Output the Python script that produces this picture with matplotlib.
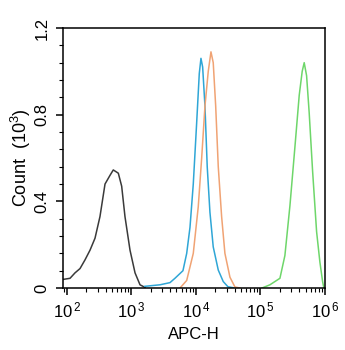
import numpy as np
import matplotlib.pyplot as plt
from matplotlib.ticker import FixedLocator, LogLocator, FuncFormatter, NullFormatter

plt.rcParams['font.family'] = 'Liberation Sans'
plt.rcParams['mathtext.fontset'] = 'custom'
plt.rcParams['mathtext.rm'] = 'Liberation Sans'
plt.rcParams['mathtext.it'] = 'Liberation Sans'

# APC-H positions given as log10 exponents, counts in thousands
black_log = [1.947, 2.051, 2.128, 2.206, 2.283, 2.361, 2.438, 2.515, 2.593, 2.670,
             2.721, 2.799, 2.851, 2.902, 2.980, 3.058, 3.135, 3.212]
black_cnt = [0.040, 0.045, 0.070, 0.090, 0.130, 0.175, 0.230, 0.330, 0.480, 0.520,
             0.545, 0.530, 0.470, 0.330, 0.175, 0.070, 0.015, 0.003]

blue_log = [3.21, 3.444, 3.599, 3.676, 3.80, 3.858, 3.909, 3.960, 4.012, 4.053,
            4.079, 4.105, 4.141, 4.176, 4.218, 4.269, 4.347, 4.424, 4.497, 4.605]
blue_cnt = [0.008, 0.015, 0.025, 0.045, 0.080, 0.160, 0.280, 0.480, 0.760, 0.990,
            1.060, 1.020, 0.840, 0.560, 0.350, 0.190, 0.083, 0.030, 0.006, 0.0]

orange_log = [3.754, 3.858, 3.960, 4.037, 4.090, 4.141, 4.192, 4.234, 4.269, 4.307,
              4.347, 4.399, 4.450, 4.528, 4.605, 4.683]
orange_cnt = [0.0, 0.035, 0.160, 0.375, 0.600, 0.840, 1.000, 1.090, 1.040, 0.840,
              0.560, 0.330, 0.160, 0.050, 0.005, 0.0]

green_log = [5.023, 5.147, 5.302, 5.379, 5.457, 5.534, 5.601, 5.647, 5.678, 5.715,
             5.755, 5.808, 5.870, 5.921, 5.963, 5.983]
green_cnt = [0.0, 0.015, 0.045, 0.150, 0.380, 0.650, 0.890, 1.000, 1.040, 0.980,
             0.810, 0.540, 0.260, 0.120, 0.030, 0.0]

series = [(black_log, black_cnt, '#3a3a3a'),
          (blue_log, blue_cnt, '#2fa6d6'),
          (orange_log, orange_cnt, '#f0a374'),
          (green_log, green_cnt, '#6ed66a')]

fig = plt.figure(figsize=[3.45, 3.5], dpi=100)
ax = fig.add_axes([0.1835, 0.177, 0.7585, 0.743])

for xl, yc, col in series:
    ax.plot(10 ** np.array(xl), yc, color=col, lw=1.1)

ax.set_xscale('log')
ax.set_xlim(10 ** 1.947, 1e6)
ax.set_ylim(0, 1.2)

ax.xaxis.set_major_locator(FixedLocator([1e2, 1e3, 1e4, 1e5, 1e6]))
ax.xaxis.set_minor_locator(LogLocator(base=10, subs=np.arange(2, 10), numticks=20))
ax.xaxis.set_minor_formatter(NullFormatter())
ax.xaxis.set_major_formatter(FuncFormatter(lambda v, p: r'10$^{\,%d}$' % round(np.log10(v))))

ax.yaxis.set_major_locator(FixedLocator([0, 0.4, 0.8, 1.2]))
ax.yaxis.set_minor_locator(FixedLocator(np.arange(0, 1.21, 0.08)))
ax.yaxis.set_major_formatter(FuncFormatter(lambda v, p: '0' if v == 0 else '%.1f' % v))

ax.tick_params(which='major', length=5, width=1.1, labelsize=12, color='black')
ax.tick_params(which='minor', length=3, width=0.8, color='black')
ax.tick_params(axis='y', labelrotation=90, pad=5)
ax.tick_params(axis='x', pad=4)
for t in ax.get_yticklabels():
    t.set_va('center')

for s in ax.spines.values():
    s.set_linewidth(1.1)

ax.set_xlabel('APC-H', fontsize=12, labelpad=5)
ax.set_ylabel('Count  (10$^{3}$)', fontsize=13, labelpad=1)

fig.savefig('out.png', dpi=100)
